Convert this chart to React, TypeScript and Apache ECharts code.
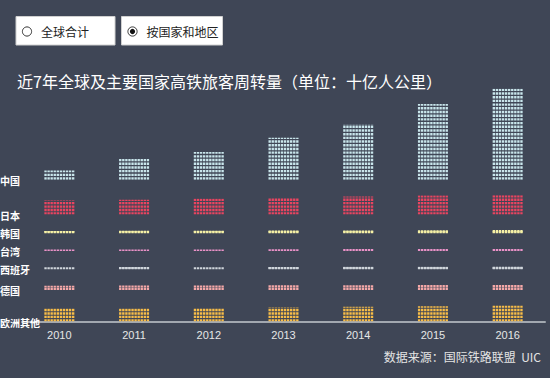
import React, { useEffect, useRef } from "react";
import * as echarts from "echarts";

const years = ["2010", "2011", "2012", "2013", "2014", "2015", "2016"];
const countries = ["中国", "日本", "韩国", "台湾", "西班牙", "德国", "欧洲其他"];
const chinaValues = [46.3, 105.6, 141.5, 214.1, 283.4, 386.1, 464.5];
const japanValues = [72, 76, 81, 87, 92, 97, 99];
const koreaValues = [12, 13, 14, 14.5, 15, 16, 17];
const taiwanValues = [7.5, 8, 8.5, 9.5, 10, 10.5, 11];
const spainValues = [11.5, 11.8, 11.3, 12.1, 13, 13.8, 14.5];
const germanyValues = [22, 22.5, 23, 23.5, 24, 25, 25.7];
const europeOtherValues = [67, 68, 70, 72, 75, 78, 82];
const seriesValues = [chinaValues, japanValues, koreaValues, taiwanValues, spainValues, germanyValues, europeOtherValues];
const rowColors = ["#c9e6ec", "#ea4460", "#f6f1a6", "#ea92c8", "#d0d6dc", "#f5a8a8", "#f8bd48"];
const modeOptions = ["全球合计", "按国家和地区"];
const selectedMode = 1;
const titleText = "近7年全球及主要国家高铁旅客周转量（单位：十亿人公里）";
const sourceText = "数据来源：国际铁路联盟  UIC";

const BG = "#3f4656";
const PX_PER_UNIT = 91 / 464.5;
const ROW_GAP = 15.5;
const BOTTOM_BASELINE = 321.5;
const GRID_LEFT = 22;
const GRID_RIGHT = 5;
const CJK = "'Noto Sans CJK SC', 'Liberation Sans', sans-serif";

function dotRowPath(): string {
  let d = "path://";
  for (let k = 0; k < 10; k++) d += `M${k * 3},0h2.3v2.3h-2.3z`;
  return d;
}

export default function App() {
  const ref = useRef<HTMLDivElement>(null);
  useEffect(() => {
    if (!ref.current) return;
    const chart = echarts.init(ref.current, undefined, { renderer: "svg" });

    const n = countries.length;
    const rows: { top: number; height: number; baseline: number }[] = new Array(n);
    let baseline = BOTTOM_BASELINE;
    for (let i = n - 1; i >= 0; i--) {
      const mx = Math.max(...seriesValues[i]);
      const h = mx * PX_PER_UNIT;
      rows[i] = { top: baseline - h, height: h, baseline };
      baseline = baseline - h - ROW_GAP;
    }

    const grids = rows.map((r) => ({ left: GRID_LEFT, right: GRID_RIGHT, top: r.top, height: r.height }));
    const xAxes = rows.map((_, i) => {
      const last = i === n - 1;
      return {
        type: "category",
        gridIndex: i,
        data: years,
        show: last,
        axisLine: { show: last, lineStyle: { color: "#a2a8b0", width: 2 } },
        axisTick: { show: false },
        axisLabel: { show: last, color: "#e6e6e6", fontSize: 11, margin: 8, fontFamily: "'Liberation Sans', Arial, sans-serif" },
        splitLine: { show: false },
      };
    });
    const yAxes = rows.map((_, i) => ({
      type: "value",
      gridIndex: i,
      min: 0,
      max: Math.max(...seriesValues[i]),
      show: false,
      splitLine: { show: false },
    }));
    const symbol = dotRowPath();
    const series = seriesValues.map((vals, i) => ({
      type: "pictorialBar",
      name: countries[i],
      xAxisIndex: i,
      yAxisIndex: i,
      data: vals,
      symbol,
      symbolSize: [30, 2.3],
      symbolMargin: 0.7,
      symbolRepeat: true,
      symbolClip: true,
      symbolPosition: "start",
      symbolBoundingData: Math.max(...vals),
      itemStyle: { color: rowColors[i] },
      z: 3,
    }));

    const graphics: any[] = [];
    const btns = [
      { x: 16, w: 99 },
      { x: 121.5, w: 101 },
    ];
    modeOptions.forEach((label, i) => {
      const b = btns[i];
      graphics.push({
        type: "rect",
        shape: { x: b.x, y: 16.5, width: b.w, height: 28.5 },
        style: { fill: "#ffffff", stroke: "#d0d0d0", lineWidth: 1 },
      });
      graphics.push({
        type: "circle",
        shape: { cx: b.x + 11, cy: 31.5, r: 4.6 },
        style: { fill: "#ffffff", stroke: "#333333", lineWidth: 1 },
      });
      if (i === selectedMode) {
        graphics.push({
          type: "circle",
          shape: { cx: b.x + 11, cy: 31.5, r: 2.6 },
          style: { fill: "#111111" },
        });
      }
      graphics.push({
        type: "text",
        x: b.x + 25,
        y: 31.5,
        style: { text: label, fill: "#222222", fontSize: 12, fontFamily: CJK, verticalAlign: "middle", align: "left" },
      });
    });
    graphics.push({
      type: "text",
      x: 17,
      y: 81,
      style: { text: titleText, fill: "#ffffff", fontSize: 16, fontFamily: CJK, verticalAlign: "middle", align: "left" },
    });
    graphics.push({
      type: "text",
      x: 541,
      y: 356,
      style: { text: sourceText, fill: "#e4e4e4", fontSize: 12, fontFamily: CJK, verticalAlign: "middle", align: "right" },
    });
    rows.forEach((r, i) => {
      graphics.push({
        type: "text",
        x: 0,
        y: r.baseline + 0.5,
        z: 10,
        style: { text: countries[i], fill: "#ffffff", fontSize: 10, fontWeight: "bold", fontFamily: CJK, verticalAlign: "middle", align: "left" },
      });
    });

    chart.setOption({
      animation: false,
      backgroundColor: BG,
      grid: grids,
      xAxis: xAxes,
      yAxis: yAxes,
      series,
      graphic: graphics,
    } as any);
    return () => chart.dispose();
  }, []);
  return <div ref={ref} style={{ position: "fixed", left: 0, top: 0, width: 550, height: 378 }} />;
}
